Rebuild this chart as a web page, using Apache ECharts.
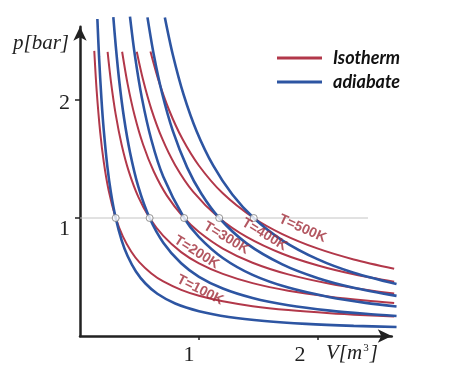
<!DOCTYPE html>
<html><head><meta charset="utf-8">
<script src="https://cdn.jsdelivr.net/npm/echarts@6/dist/echarts.min.js"></script>
<style>html,body{margin:0;padding:0;background:#fff}#c{width:450px;height:387px}</style>
</head><body><div id="c"></div>
<script>
// Isotherms (red) [V, p]
const iso100 = [[0.12,2.416],[0.14,2.079],[0.17,1.723],[0.2,1.473],[0.24,1.237],[0.3,1.001],[0.36,0.844],[0.43,0.716],[0.5,0.624],[0.6,0.53],[0.7,0.462],[0.85,0.391],[1.0,0.341],[1.2,0.294],[1.45,0.253],[1.75,0.22],[2.1,0.193],[2.4,0.176],[2.64,0.165]];
const iso200 = [[0.232,2.407],[0.26,2.156],[0.3,1.878],[0.35,1.621],[0.41,1.395],[0.49,1.179],[0.585,1.0],[0.7,0.848],[0.85,0.711],[1.0,0.616],[1.2,0.526],[1.45,0.448],[1.75,0.384],[2.1,0.333],[2.4,0.3],[2.64,0.28]];
const iso300 = [[0.354,2.409],[0.4,2.137],[0.46,1.864],[0.53,1.623],[0.62,1.394],[0.73,1.19],[0.875,1.0],[1.0,0.881],[1.2,0.741],[1.45,0.621],[1.75,0.522],[2.1,0.442],[2.4,0.392],[2.64,0.36]];
const iso400 = [[0.477,2.409],[0.53,2.171],[0.6,1.921],[0.69,1.674],[0.8,1.448],[0.95,1.224],[1.17,1.0],[1.4,0.84],[1.7,0.697],[2.0,0.597],[2.3,0.523],[2.64,0.46]];
const iso500 = [[0.592,2.411],[0.66,2.166],[0.75,1.911],[0.86,1.671],[1.0,1.443],[1.2,1.209],[1.46,1.0],[1.7,0.864],[2.0,0.74],[2.3,0.649],[2.64,0.57]];
// Adiabats (blue) [V, p]
const adi100 = [[0.146,2.687],[0.16,2.367],[0.18,2.011],[0.2,1.74],[0.23,1.436],[0.26,1.214],[0.3,1.0],[0.35,0.811],[0.4,0.678],[0.47,0.547],[0.55,0.445],[0.65,0.358],[0.8,0.275],[1.0,0.21],[1.25,0.161],[1.55,0.127],[1.9,0.103],[2.3,0.086],[2.66,0.076]];
const adi200 = [[0.28,2.702],[0.3,2.462],[0.33,2.159],[0.37,1.847],[0.42,1.558],[0.49,1.266],[0.585,1.0],[0.7,0.791],[0.85,0.616],[1.0,0.502],[1.2,0.402],[1.45,0.322],[1.75,0.261],[2.1,0.215],[2.4,0.188],[2.66,0.17]];
const adi300 = [[0.42,2.706],[0.46,2.387],[0.52,2.018],[0.6,1.661],[0.7,1.349],[0.875,1.0],[1.0,0.838],[1.2,0.661],[1.45,0.518],[1.75,0.41],[2.1,0.329],[2.4,0.281],[2.66,0.25]];
const adi400 = [[0.567,2.7],[0.62,2.384],[0.69,2.057],[0.78,1.738],[0.9,1.429],[1.02,1.205],[1.17,1.0],[1.4,0.785],[1.7,0.607],[2.0,0.49],[2.3,0.409],[2.66,0.34]];
const adi500 = [[0.713,2.7],[0.78,2.384],[0.87,2.048],[0.98,1.736],[1.12,1.443],[1.28,1.199],[1.46,1.0],[1.7,0.811],[2.0,0.649],[2.3,0.536],[2.66,0.44]];
// intersections on p = 1
const crossV = [0.30, 0.585, 0.875, 1.17, 1.46];
const crossP = [1, 1, 1, 1, 1];
// reference line p = 1
const refV = [0, 2.42];
const refP = [1, 1];
// temperature labels
const tempLabels = ['T=100K','T=200K','T=300K','T=400K','T=500K'];
const labelV = [1.01, 0.98, 1.23, 1.55, 1.87];
const labelP = [0.39, 0.71, 0.83, 0.86, 0.91];
const labelRot = [-27, -32, -31, -31, -24];
// ticks
const xTicks = [1, 2];
const yTicks = [1, 2];

const RED = '#b2384a', BLUE = '#2d55a2', TXTRED = '#a02d3a';
const isoList = [iso100, iso200, iso300, iso400, iso500];
const adiList = [adi100, adi200, adi300, adi400, adi500];

const series = [];
series.push({type:'line', xAxisIndex:0, yAxisIndex:0, data: refV.map((v,i)=>[v, refP[i]]), symbol:'none', lineStyle:{color:'#c4c4c4', width:1}, silent:true, z:1});
isoList.forEach(d => series.push({name:'Isotherm', type:'line', xAxisIndex:0, yAxisIndex:0, data:d, smooth:0.3, symbol:'none', lineStyle:{color:RED, width:2}, itemStyle:{color:RED}, z:2}));
adiList.forEach(d => series.push({name:'adiabate', type:'line', xAxisIndex:0, yAxisIndex:0, data:d, smooth:0.3, symbol:'none', lineStyle:{color:BLUE, width:2.6}, itemStyle:{color:BLUE}, z:3}));
series.push({type:'scatter', xAxisIndex:0, yAxisIndex:0, data: crossV.map((v,i)=>[v, crossP[i]]), symbol:'circle', symbolSize:7, itemStyle:{color:'#fff', borderColor:'#7a7a7a', borderWidth:1}, z:5});
series.push({type:'scatter', xAxisIndex:0, yAxisIndex:0, symbolSize:0, z:6,
  data: tempLabels.map((t,i)=>({value:[labelV[i], labelP[i]], label:{show:true, formatter:t, rotate:labelRot[i], position:'inside', color:TXTRED, fontFamily:'Liberation Sans, Arial, sans-serif', fontWeight:'bold', fontSize:14}}))});

const chart = echarts.init(document.getElementById('c'), null, {renderer:'canvas'});
chart.setOption({
  animation:false,
  backgroundColor:'#fff',
  grid:[
    {left:80, top:5.6, width:333.2, height:330.4},
    {left:80, top:26.84, width:311.78, height:309.16}
  ],
  xAxis:[
    {gridIndex:0, type:'value', min:0, max:2.8, show:false},
    {gridIndex:1, type:'value', min:0, max:2.62, interval:1,
      axisLine:{show:true, lineStyle:{color:'#222', width:2.5}, symbol:['none','arrow'], symbolSize:[10,14], symbolOffset:[0,0]},
      axisTick:{show:true, length:4, lineStyle:{color:'#222', width:1.5}, customValues:xTicks},
      splitLine:{show:false},
      axisLabel:{customValues:xTicks, margin:8, color:'#222', fontFamily:'Liberation Serif, Times New Roman, serif', fontSize:22,
        formatter:v => v===1 ? '{a|1}' : '{b|2}',
        rich:{a:{padding:[0,20,0,0], fontSize:22, fontFamily:'Liberation Serif', color:'#222'}, b:{padding:[0,36,0,0], fontSize:22, fontFamily:'Liberation Serif', color:'#222'}}}
    }
  ],
  yAxis:[
    {gridIndex:0, type:'value', min:0, max:2.8, show:false},
    {gridIndex:1, type:'value', min:0, max:2.62, interval:1,
      axisLine:{show:true, lineStyle:{color:'#222', width:2.5}, symbol:['none','arrow'], symbolSize:[10,14]},
      axisTick:{show:true, length:5, lineStyle:{color:'#222', width:1.5}, customValues:yTicks},
      splitLine:{show:false},
      axisLabel:{customValues:yTicks, margin:10, color:'#222', fontFamily:'Liberation Serif, Times New Roman, serif', fontSize:22,
        formatter:v => v===1 ? '{a|1}' : '{b|2}',
        rich:{a:{padding:[22,0,0,0], fontSize:22, fontFamily:'Liberation Serif', color:'#222'}, b:{padding:[6,0,0,0], fontSize:22, fontFamily:'Liberation Serif', color:'#222'}}}
    }
  ],
  legend:{
    data:['Isotherm','adiabate'], orient:'vertical', left:272, top:44, icon:'rect', itemWidth:45, itemHeight:3, itemGap:6,
    textStyle:{fontFamily:'Lato, sans-serif', fontWeight:'bold', fontStyle:'italic', fontSize:18, color:'#111', padding:[0,0,0,6]}
  },
  graphic:[
    {type:'text', left:13, top:33, style:{text:'p[bar]', font:'italic 21px "Liberation Serif", serif', fill:'#222'}},
    {type:'text', left:326, top:343, style:{text:'V[m{s|3}]', font:'italic 21px "Liberation Serif", serif', fill:'#222', rich:{s:{font:'11px "Liberation Serif", serif', fill:'#222', verticalAlign:'top', padding:[0,1,10,1]}}}}
  ],
  series: series
});
</script></body></html>
